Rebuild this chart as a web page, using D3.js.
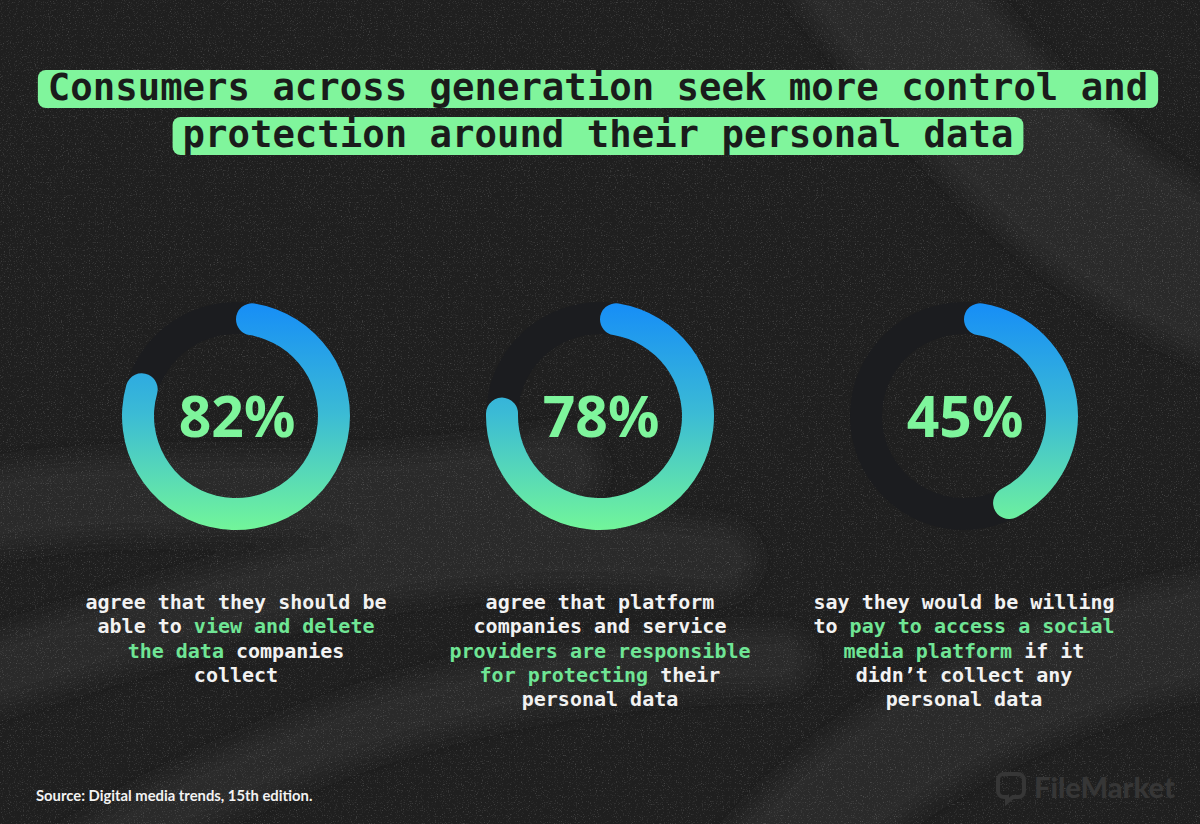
<!DOCTYPE html>
<html>
<head>
<meta charset="utf-8">
<script src="https://cdn.jsdelivr.net/npm/d3@7"></script>
<style>
  html, body { margin: 0; padding: 0; background: #202020; }
  svg { display: block; }
</style>
</head>
<body>
<svg id="chart" width="1200" height="824"></svg>
<script>
// ---- data ----
const titleLines = [
  "Consumers across generation seek more control and",
  "protection around their personal data"
];
const values = [82, 78, 45];
const valueLabels = ["82%", "78%", "45%"];
// description lines: each line is a list of [text, highlighted]
const descriptions = [
  [
    [["agree that they should be", false]],
    [["able to ", false], ["view and delete", true]],
    [["the data", true], [" companies", false]],
    [["collect", false]]
  ],
  [
    [["agree that platform", false]],
    [["companies and service", false]],
    [["providers are responsible", true]],
    [["for protecting", true], [" their", false]],
    [["personal data", false]]
  ],
  [
    [["say they would be willing", false]],
    [["to ", false], ["pay to access a social", true]],
    [["media platform", true], [" if it", false]],
    [["didn\u2019t collect any", false]],
    [["personal data", false]]
  ]
];
const sourceText = "Source: Digital media trends, 15th edition.";
const brandText = "FileMarket";

// ---- drawing ----
const W = 1200, H = 824;
const svg = d3.select("#chart");
const defs = svg.append("defs");

// noise filter
const f = defs.append("filter").attr("id", "noise").attr("x", 0).attr("y", 0).attr("width", "100%").attr("height", "100%");
f.append("feTurbulence").attr("type", "fractalNoise").attr("baseFrequency", 0.85).attr("numOctaves", 2).attr("seed", 7).attr("result", "t");
f.append("feColorMatrix").attr("in", "t").attr("type", "matrix")
  .attr("values", "0 0 0 0 1  0 0 0 0 1  0 0 0 0 1  0 0 0 2.6 -1.5");

const blur = defs.append("filter").attr("id", "soft").attr("x", "-20%").attr("y", "-20%").attr("width", "140%").attr("height", "140%");
blur.append("feGaussianBlur").attr("stdDeviation", 10);

// background
svg.append("rect").attr("width", W).attr("height", H).attr("fill", "#1f1f1f");
const bands = svg.append("g").attr("filter", "url(#soft)").attr("fill", "none").attr("stroke", "#292929").attr("stroke-linecap", "round");
bands.append("path").attr("d", "M-60,520 C150,470 330,520 560,470").attr("stroke-width", 80);
bands.append("path").attr("d", "M-60,690 C200,610 420,520 720,560").attr("stroke-width", 70);
bands.append("path").attr("d", "M80,860 C280,740 500,660 780,660").attr("stroke-width", 60);
bands.append("path").attr("d", "M760,880 C880,740 1040,660 1260,620").attr("stroke-width", 110);
bands.append("path").attr("d", "M860,-40 C980,110 1080,230 1260,300").attr("stroke-width", 150);
svg.append("rect").attr("width", W).attr("height", H).attr("filter", "url(#noise)").attr("opacity", 0.22);

// title with highlight boxes
const titleFont = 37.3;
const charW = titleFont * 0.602;
const titleCenter = 598;
const titleBaselines = [100, 147];
const tg = svg.append("g");
titleLines.forEach((line, i) => {
  const tw = line.length * charW;
  tg.append("rect")
    .attr("x", titleCenter - tw / 2 - 10)
    .attr("y", titleBaselines[i] - 30)
    .attr("width", tw + 20)
    .attr("height", 38)
    .attr("rx", 8)
    .attr("fill", "#80f59c");
  tg.append("text")
    .attr("x", titleCenter)
    .attr("y", titleBaselines[i])
    .attr("text-anchor", "middle")
    .attr("font-family", "'DejaVu Sans Mono', monospace")
    .attr("font-weight", "bold")
    .attr("font-size", titleFont)
    .attr("fill", "#1a1c1b")
    .text(line);
});

// donuts
const centersX = d3.scalePoint().domain(d3.range(values.length)).range([236, 964]);
const cy = 416;
const rOuter = 114, rInner = 82;
const angle = d3.scaleLinear().domain([0, 100]).range([0, 2 * Math.PI]);
const arcGen = d3.arc().innerRadius(rInner).outerRadius(rOuter).cornerRadius((rOuter - rInner) / 2);
const trackGen = d3.arc().innerRadius(rInner).outerRadius(rOuter).startAngle(0).endAngle(2 * Math.PI);

values.forEach((v, i) => {
  const cx = centersX(i);
  const gid = "grad" + i;
  const lg = defs.append("linearGradient").attr("id", gid)
    .attr("gradientUnits", "userSpaceOnUse")
    .attr("x1", 0).attr("x2", 0).attr("y1", -rOuter).attr("y2", rOuter);
  lg.append("stop").attr("offset", "0%").attr("stop-color", "#168df7");
  lg.append("stop").attr("offset", "50%").attr("stop-color", "#3cbcd4");
  lg.append("stop").attr("offset", "100%").attr("stop-color", "#72f59a");

  const g = svg.append("g").attr("transform", `translate(${cx},${cy})`);
  g.append("path").attr("d", trackGen()).attr("fill", "#1b1c1f");
  g.append("path")
    .attr("d", arcGen({ startAngle: 0, endAngle: angle(v) }))
    .attr("fill", `url(#${gid})`);
  g.append("text")
    .attr("x", 1).attr("y", 21)
    .attr("text-anchor", "middle")
    .attr("font-family", "'Noto Sans', Lato, sans-serif")
    .attr("font-weight", "bold")
    .attr("font-size", 57)
    .attr("fill", "#7ef59c")
    .text(valueLabels[i]);
});

// descriptions
const descFont = 20;
const descBase = 609;
const descLH = 24.3;
descriptions.forEach((lines, i) => {
  const cx = centersX(i);
  lines.forEach((segs, j) => {
    const t = svg.append("text")
      .attr("x", cx)
      .attr("y", descBase + j * descLH)
      .attr("text-anchor", "middle")
      .attr("font-family", "'DejaVu Sans Mono', monospace")
      .attr("font-weight", "bold")
      .attr("font-size", descFont)
      .attr("xml:space", "preserve")
      .style("white-space", "pre");
    segs.forEach(([txt, hl]) => {
      t.append("tspan").attr("fill", hl ? "#6fe595" : "#f2f2f2").text(txt);
    });
  });
});

// source
svg.append("text")
  .attr("x", 36).attr("y", 801)
  .attr("font-family", "Lato, 'Noto Sans', sans-serif")
  .attr("font-weight", "bold")
  .attr("font-size", 14.8)
  .attr("fill", "#f2f2f2")
  .text(sourceText);

// brand logo (faint)
const brand = svg.append("g");
brand.append("path")
  .attr("d", "M1004,774 h14 a6,6 0 0 1 6,6 v11 a6,6 0 0 1 -6,6 h-5 l-6,5 v-5 h-3 a6,6 0 0 1 -6,-6 v-11 a6,6 0 0 1 6,-6 z")
  .attr("fill", "none").attr("stroke", "#363636").attr("stroke-width", 4);
brand.append("text")
  .attr("x", 1034).attr("y", 798)
  .attr("font-family", "Lato, 'Noto Sans', sans-serif")
  .attr("font-weight", "900")
  .attr("font-size", 29)
  .attr("fill", "#363636")
  .text(brandText);
</script>
</body>
</html>
